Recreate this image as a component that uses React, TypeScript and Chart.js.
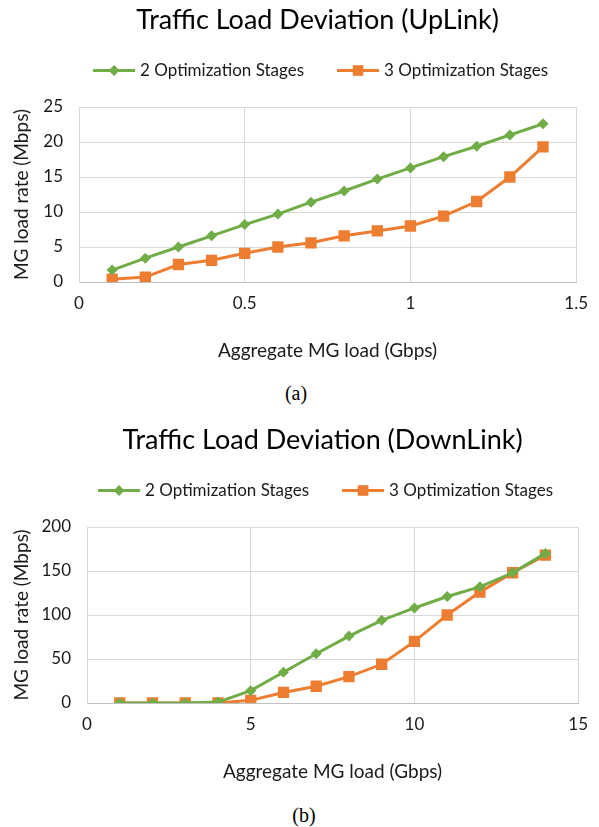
import React, { useEffect, useRef } from 'react';
import { Chart, registerables } from 'chart.js';

Chart.register(...registerables);

const FONT = 'Lato, "Open Sans", sans-serif';
const GREEN = '#70ad47';
const ORANGE = '#ed7d31';
const GRID = '#d9d9d9';
const TEXT = '#1a1a1a';

const seriesLabels = ['2 Optimization Stages', '3 Optimization Stages'];

const upLinkTitle = 'Traffic Load Deviation (UpLink)';
const upLinkLoad = [0.1, 0.2, 0.3, 0.4, 0.5, 0.6, 0.7, 0.8, 0.9, 1.0, 1.1, 1.2, 1.3, 1.4];
const upLink2Stages = [1.7, 3.4, 5.0, 6.6, 8.2, 9.7, 11.4, 13.0, 14.7, 16.3, 17.9, 19.4, 21.0, 22.6];
const upLink3Stages = [0.4, 0.7, 2.5, 3.1, 4.1, 5.0, 5.6, 6.6, 7.3, 8.0, 9.4, 11.5, 15.0, 19.3];
const upLinkXTicks = [0, 0.5, 1, 1.5];
const upLinkYTicks = [0, 5, 10, 15, 20, 25];

const downLinkTitle = 'Traffic Load Deviation (DownLink)';
const downLinkLoad = [1, 2, 3, 4, 5, 6, 7, 8, 9, 10, 11, 12, 13, 14];
const downLink2Stages = [0, 0, 0, 1, 14, 35, 56, 76, 94, 108, 121, 132, 148, 170];
const downLink3Stages = [0, 0, 0, 0, 3, 12, 19, 30, 44, 70, 100, 126, 148, 168];
const downLinkXTicks = [0, 5, 10, 15];
const downLinkYTicks = [0, 50, 100, 150, 200];

const xAxisTitle = 'Aggregate MG load (Gbps)';
const yAxisTitle = 'MG load rate (Mbps)';

function drawMarker(ctx: CanvasRenderingContext2D, style: string, x: number, y: number, r: number, color: string) {
  ctx.fillStyle = color;
  ctx.beginPath();
  if (style === 'rectRot') {
    ctx.moveTo(x - r, y);
    ctx.lineTo(x, y - r);
    ctx.lineTo(x + r, y);
    ctx.lineTo(x, y + r);
    ctx.closePath();
  } else {
    const s = r * Math.SQRT1_2;
    ctx.rect(x - s, y - s, 2 * s, 2 * s);
  }
  ctx.fill();
}

const headerPlugin = {
  id: 'headerLegend',
  afterDraw(chart: any, _args: any, opts: any) {
    const { ctx, chartArea } = chart;
    const mid = (chartArea.left + chartArea.right) / 2;
    ctx.save();
    ctx.fillStyle = '#000';
    ctx.font = `27px ${FONT}`;
    ctx.textAlign = 'center';
    ctx.textBaseline = 'middle';
    ctx.fillText(opts.title, mid - 10, opts.titleY);

    ctx.font = `17px ${FONT}`;
    const sw = 42;
    const gap = 5;
    const itemGap = 33;
    const dss = chart.data.datasets;
    const widths = dss.map((ds: any) => sw + gap + ctx.measureText(ds.label).width);
    const total = widths.reduce((a: number, b: number) => a + b, 0) + itemGap * (dss.length - 1);
    let x = mid - 7 - total / 2;
    const y = opts.legendY;
    dss.forEach((ds: any, i: number) => {
      ctx.strokeStyle = ds.borderColor;
      ctx.lineWidth = 3;
      ctx.beginPath();
      ctx.moveTo(x, y);
      ctx.lineTo(x + sw, y);
      ctx.stroke();
      drawMarker(ctx, ds.pointStyle, x + sw / 2, y, ds.pointStyle === 'rectRot' ? 5.5 : 7.5, ds.backgroundColor);
      ctx.fillStyle = TEXT;
      ctx.textAlign = 'left';
      ctx.fillText(ds.label, x + sw + gap, y);
      x += widths[i] + itemGap;
    });
    ctx.restore();
  },
};

type Props = {
  title: string;
  xs: number[];
  s2: number[];
  s3: number[];
  xTicks: number[];
  yTicks: number[];
  yAxisWidth: number;
  padRight: number;
  top: number;
  height: number;
};

function LoadChart(p: Props) {
  const ref = useRef<HTMLCanvasElement | null>(null);
  useEffect(() => {
    if (!ref.current) return;
    const mk = (ys: number[]) => p.xs.map((x, i) => ({ x, y: ys[i] }));
    const chart = new Chart(ref.current, {
      type: 'line',
      data: {
        datasets: [
          {
            label: seriesLabels[0],
            data: mk(p.s2),
            borderColor: GREEN,
            backgroundColor: GREEN,
            borderWidth: 3,
            pointStyle: 'rectRot',
            pointRadius: 5.5,
            pointBorderWidth: 0,
            tension: 0,
          },
          {
            label: seriesLabels[1],
            data: mk(p.s3),
            borderColor: ORANGE,
            backgroundColor: ORANGE,
            borderWidth: 3,
            pointStyle: 'rect',
            pointRadius: 8,
            pointBorderWidth: 0,
            tension: 0,
          },
        ],
      },
      options: {
        animation: false,
        responsive: false,
        maintainAspectRatio: false,
        layout: { padding: { top: 107, left: 0, right: p.padRight, bottom: 8 } },
        plugins: {
          legend: { display: false },
          title: { display: false },
          tooltip: { enabled: false },
          headerLegend: { title: p.title, titleY: 20.5, legendY: 70.5 },
        } as any,
        scales: {
          x: {
            type: 'linear',
            min: p.xTicks[0],
            max: p.xTicks[p.xTicks.length - 1],
            afterBuildTicks: (axis: any) => {
              axis.ticks = p.xTicks.map((v) => ({ value: v }));
            },
            afterFit: (axis: any) => {
              axis.height = 80;
            },
            grid: { color: GRID, drawTicks: false, lineWidth: 1 },
            border: { color: '#bfbfbf', width: 1 },
            ticks: {
              color: TEXT,
              font: { family: FONT, size: 17 },
              padding: 11,
              maxRotation: 0,
              callback: (v: any) => String(v),
            },
            title: {
              display: true,
              text: xAxisTitle,
              color: TEXT,
              font: { family: FONT, size: 19 },
              padding: { top: 0, bottom: 0 },
            },
          },
          y: {
            type: 'linear',
            min: p.yTicks[0],
            max: p.yTicks[p.yTicks.length - 1],
            afterBuildTicks: (axis: any) => {
              axis.ticks = p.yTicks.map((v) => ({ value: v }));
            },
            afterFit: (axis: any) => {
              axis.width = p.yAxisWidth;
            },
            grid: { color: GRID, drawTicks: false, lineWidth: 1 },
            border: { color: GRID, width: 1 },
            ticks: {
              color: TEXT,
              font: { family: FONT, size: 17 },
              padding: 16,
              callback: (v: any) => String(v),
            },
            title: {
              display: true,
              text: yAxisTitle,
              color: TEXT,
              font: { family: FONT, size: 19 },
              padding: { top: 10, bottom: 0 },
            },
          },
        },
      },
      plugins: [headerPlugin],
    });
    return () => chart.destroy();
  }, []);
  return (
    <canvas
      ref={ref}
      width={599}
      height={p.height}
      style={{ position: 'absolute', left: 0, top: p.top, width: 599, height: p.height }}
    />
  );
}

const captionStyle = (cx: number, cy: number): React.CSSProperties => ({
  position: 'absolute',
  left: cx - 50,
  top: cy - 12,
  width: 100,
  height: 24,
  lineHeight: '24px',
  textAlign: 'center',
  fontFamily: '"Liberation Serif", "Times New Roman", serif',
  fontSize: 20,
  color: '#000',
});

export default function App() {
  return (
    <div style={{ position: 'absolute', left: 0, top: 0, width: 599, height: 827, background: '#fff', overflow: 'hidden' }}>
      <LoadChart
        title={upLinkTitle}
        xs={upLinkLoad}
        s2={upLink2Stages}
        s3={upLink3Stages}
        xTicks={upLinkXTicks}
        yTicks={upLinkYTicks}
        yAxisWidth={79}
        padRight={12}
        top={0}
        height={370}
      />
      <div style={captionStyle(296, 393)}>(a)</div>
      <LoadChart
        title={downLinkTitle}
        xs={downLinkLoad}
        s2={downLink2Stages}
        s3={downLink3Stages}
        xTicks={downLinkXTicks}
        yTicks={downLinkYTicks}
        yAxisWidth={87}
        padRight={19}
        top={420}
        height={371}
      />
      <div style={captionStyle(304, 815)}>(b)</div>
    </div>
  );
}
